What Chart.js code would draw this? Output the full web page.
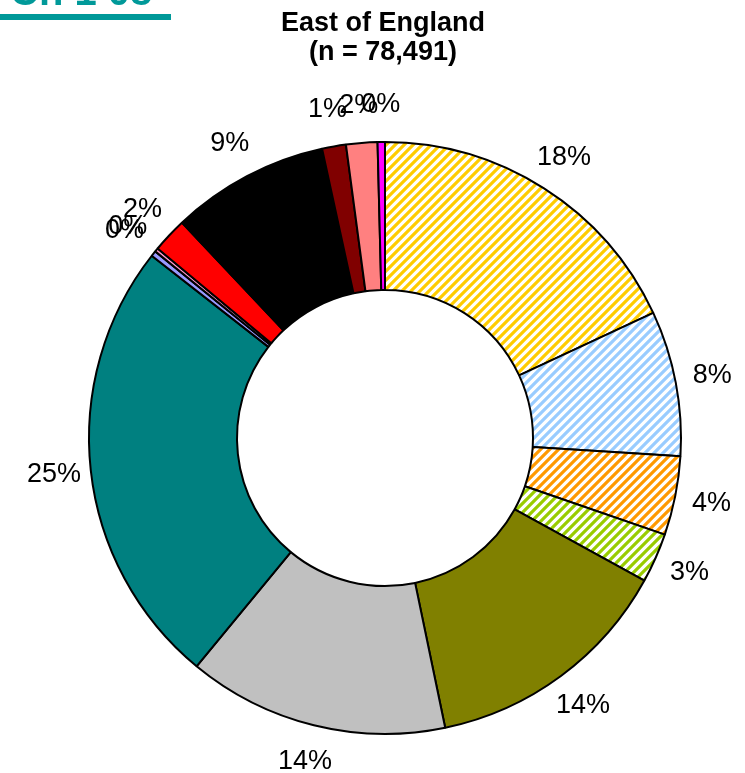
<!DOCTYPE html>
<html lang="en">
<head>
<meta charset="UTF-8">
<title>East of England</title>
<script src="https://cdn.jsdelivr.net/npm/chart.js"></script>
<style>
    body { margin: 0; background: #fff; font-family: 'Liberation Sans', Arial, sans-serif; }
    .page { position: relative; width: 745px; height: 773px; overflow: hidden; }
    .tag { position: absolute; left: 10px; top: -29px; font-size: 40px; line-height: 40px; font-weight: bold; color: #009999; white-space: nowrap; }
    .tag-line { position: absolute; left: 0; top: 14px; width: 171px; height: 6px; background: #009999; }
    .title { position: absolute; left: 233px; top: 8px; width: 300px; text-align: center; font-size: 27px; line-height: 29px; font-weight: bold; color: #000; }
    .chart-box { position: absolute; left: 0; top: 0; width: 745px; height: 773px; }
</style>
</head>
<body>
<div class="page">
    <div class="chart-box"><canvas id="ringChart"></canvas></div>
    <div class="tag">Ch 1 08</div>
    <div class="tag-line"></div>
    <div class="title">East of England<br>(n = 78,491)</div>
</div>

<script>
// slices, clockwise from 12 o'clock
const categories = ['Group 1', 'Group 2', 'Group 3', 'Group 4', 'Group 5', 'Group 6', 'Group 7',
                    'Group 8', 'Group 9', 'Group 10', 'Group 11', 'Group 12', 'Group 13', 'Group 14'];
const shares = [18.0, 7.9, 4.3, 2.7, 13.7, 14.2, 24.5, 0.3, 0.2, 1.9, 8.6, 1.3, 1.7, 0.4];
const colours = ['#FFCC00', '#99CCFF', '#FF9900', '#99CC00', '#808000', '#C0C0C0', '#008080',
                 '#9999FF', '#FF99CC', '#FF0000', '#000000', '#800000', '#FF8080', '#FF00FF'];
const hatched = [true, true, true, true, false, false, false, false, false, false, false, false, false, false];

// white background with "/" stripes in the given colour
function stripes(colour) {
    const s = 9;
    const c = document.createElement('canvas');
    c.width = s; c.height = s;
    const g = c.getContext('2d');
    g.fillStyle = '#fff';
    g.fillRect(0, 0, s, s);
    g.strokeStyle = colour;
    g.lineWidth = 3.2;
    g.beginPath();
    g.moveTo(-1, s + 1); g.lineTo(s + 1, -1);
    g.moveTo(-2, 2); g.lineTo(2, -2);
    g.moveTo(s - 2, s + 2); g.lineTo(s + 2, s - 2);
    g.stroke();
    return g.createPattern(c, 'repeat');
}

const fills = colours.map((c, i) => hatched[i] ? stripes(c) : c);

const outsideLabels = {
    id: 'outsideLabels',
    afterDatasetsDraw(chart) {
        const ctx = chart.ctx;
        const meta = chart.getDatasetMeta(0);
        const total = shares.reduce((a, b) => a + b, 0);
        ctx.save();
        ctx.font = '27px "Liberation Sans", Arial, sans-serif';
        ctx.fillStyle = '#000';
        ctx.textAlign = 'center';
        ctx.textBaseline = 'middle';
        meta.data.forEach((arc, i) => {
            const p = arc.getProps(['x', 'y', 'startAngle', 'endAngle', 'outerRadius'], true);
            const mid = (p.startAngle + p.endAngle) / 2;
            const r = p.outerRadius + 37;
            ctx.fillText(Math.round(shares[i] / total * 100) + '%', p.x + Math.cos(mid) * r, p.y + Math.sin(mid) * r);
        });
        ctx.restore();
    }
};

new Chart(document.getElementById('ringChart'), {
    type: 'doughnut',
    data: {
        labels: categories,
        datasets: [{
            data: shares,
            backgroundColor: fills,
            borderColor: '#000',
            borderWidth: 2,
            hoverOffset: 0
        }]
    },
    options: {
        responsive: true,
        maintainAspectRatio: false,
        animation: false,
        cutout: '50%',
        layout: { padding: { left: 88, right: 63, top: 141, bottom: 38 } },
        plugins: {
            legend: { display: false },
            tooltip: { enabled: false }
        }
    },
    plugins: [outsideLabels]
});
</script>
</body>
</html>
